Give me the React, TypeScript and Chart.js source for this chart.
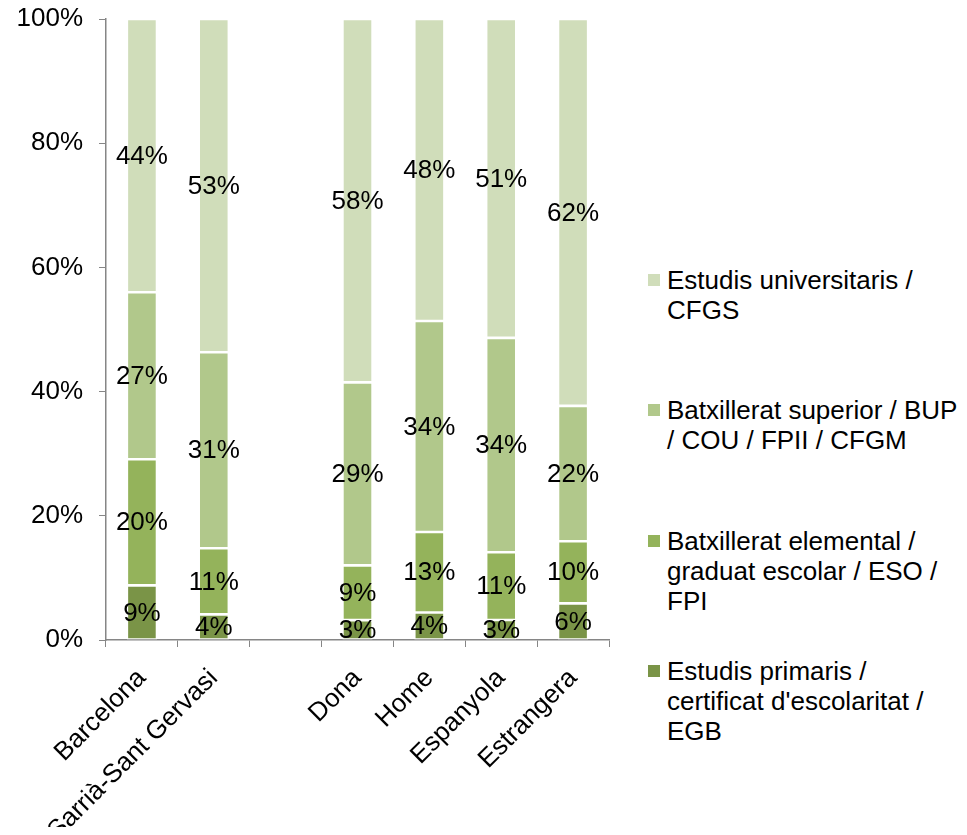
import React, { useEffect, useRef } from "react";
import { Chart, registerables } from "chart.js";

Chart.register(...registerables);

const categories = ["Barcelona", "Sarrià-Sant Gervasi", "", "Dona", "Home", "Espanyola", "Estrangera"];
const primaris = [8.8, 4.1, null, 3.2, 4.4, 3.2, 5.9];
const elemental = [20.3, 10.6, null, 8.8, 12.9, 10.9, 10.0];
const superior = [26.9, 31.4, null, 29.4, 33.8, 34.4, 21.8];
const universitaris = [44.0, 53.4, null, 58.4, 48.4, 51.2, 62.3];
const yTicks = [0, 20, 40, 60, 80, 100];

const seriesNames = [
  "Estudis primaris /\ncertificat d'escolaritat /\nEGB",
  "Batxillerat elemental /\ngraduat escolar / ESO /\nFPI",
  "Batxillerat superior / BUP\n/ COU / FPII / CFGM",
  "Estudis universitaris /\nCFGS",
];
const seriesColors = ["#7a9447", "#94b35b", "#b1c88b", "#d0ddba"];
const seriesValues = [primaris, elemental, superior, universitaris];

const FONT = "'Liberation Sans', Arial, Helvetica, sans-serif";
const FS = 26;

const totals = categories.map((_, i) =>
  seriesValues.reduce((s, arr) => s + (arr[i] ?? 0), 0)
);

const labelPlugin = {
  id: "segLabels",
  afterDatasetsDraw(chart: any) {
    const ctx = chart.ctx;
    ctx.save();
    ctx.font = `${FS}px ${FONT}`;
    ctx.fillStyle = "#000";
    ctx.textAlign = "center";
    ctx.textBaseline = "middle";
    chart.data.datasets.forEach((ds: any, di: number) => {
      const meta = chart.getDatasetMeta(di);
      meta.data.forEach((el: any, i: number) => {
        const raw = ds.rawValues[i];
        if (raw == null) return;
        const y = (el.y + el.base) / 2;
        ctx.fillText(Math.round(raw) + "%", el.x, y + 1);
      });
    });
    ctx.restore();
  },
};

export default function App() {
  const ref = useRef<HTMLCanvasElement>(null);

  useEffect(() => {
    if (!ref.current) return;
    const chart = new Chart(ref.current, {
      type: "bar",
      data: {
        labels: categories,
        datasets: seriesValues.map((vals, si) => ({
          label: seriesNames[si].replace(/\n/g, " "),
          data: vals.map((v, i) => (v == null ? null : (v / totals[i]) * 100)),
          rawValues: vals,
          backgroundColor: seriesColors[si],
          borderColor: "#ffffff",
          borderWidth: 1.3,
          borderSkipped: false,
          categoryPercentage: 1,
          barPercentage: 0.42,
        })) as any,
      },
      options: {
        responsive: false,
        animation: false,
        events: [],
        layout: { padding: { top: 11, left: 0, right: 19, bottom: 0 } },
        plugins: {
          legend: { display: false },
          tooltip: { enabled: false },
        },
        scales: {
          x: {
            stacked: true,
            grid: {
              display: true,
              drawOnChartArea: false,
              drawTicks: true,
              tickLength: 7,
              color: "#868686",
              offset: true,
            },
            border: { display: true, color: "#868686", width: 1.5 },
            ticks: {
              autoSkip: false,
              maxRotation: 45,
              minRotation: 45,
              padding: 16,
              color: "#000",
              font: { family: FONT, size: FS },
            },
            afterFit(scale: any) {
              scale.height = 187;
              scale.paddingLeft = 0;
              scale.paddingRight = 0;
            },
          },
          y: {
            stacked: true,
            min: 0,
            max: 100,
            afterBuildTicks(scale: any) {
              scale.ticks = yTicks.map((v) => ({ value: v }));
            },
            grid: {
              display: true,
              drawOnChartArea: false,
              drawTicks: true,
              tickLength: 7,
              color: "#868686",
            },
            border: { display: true, color: "#868686", width: 1.5 },
            ticks: {
              padding: 16,
              color: "#000",
              font: { family: FONT, size: FS },
              callback: (v: any) => v + "%",
            },
            afterFit(scale: any) {
              scale.width = 98;
              scale.paddingTop = 0;
              scale.paddingBottom = 0;
            },
          },
        },
      },
      plugins: [labelPlugin],
    });
    return () => chart.destroy();
  }, []);

  const itemTops = [257, 387, 518, 648];
  const legendOrder = [3, 2, 1, 0];

  return (
    <div style={{ position: "relative", width: 951, height: 819, fontFamily: FONT }}>
      <canvas
        ref={ref}
        width={620}
        height={819}
        style={{ position: "absolute", left: 0, top: 0, width: 620, height: 819 }}
      />
      {legendOrder.map((si, k) => (
        <div key={si} style={{ position: "absolute", left: 640, top: itemTops[k] }}>
          <div
            style={{
              position: "absolute",
              left: 0,
              top: 9,
              width: 12,
              height: 12,
              background: seriesColors[si],
            }}
          />
          <div
            style={{
              position: "absolute",
              left: 19,
              top: 0,
              fontSize: FS,
              lineHeight: "30px",
              color: "#000",
              whiteSpace: "nowrap",
            }}
          >
            {seriesNames[si].split("\n").map((line, li) => (
              <div key={li}>{line}</div>
            ))}
          </div>
        </div>
      ))}
    </div>
  );
}
